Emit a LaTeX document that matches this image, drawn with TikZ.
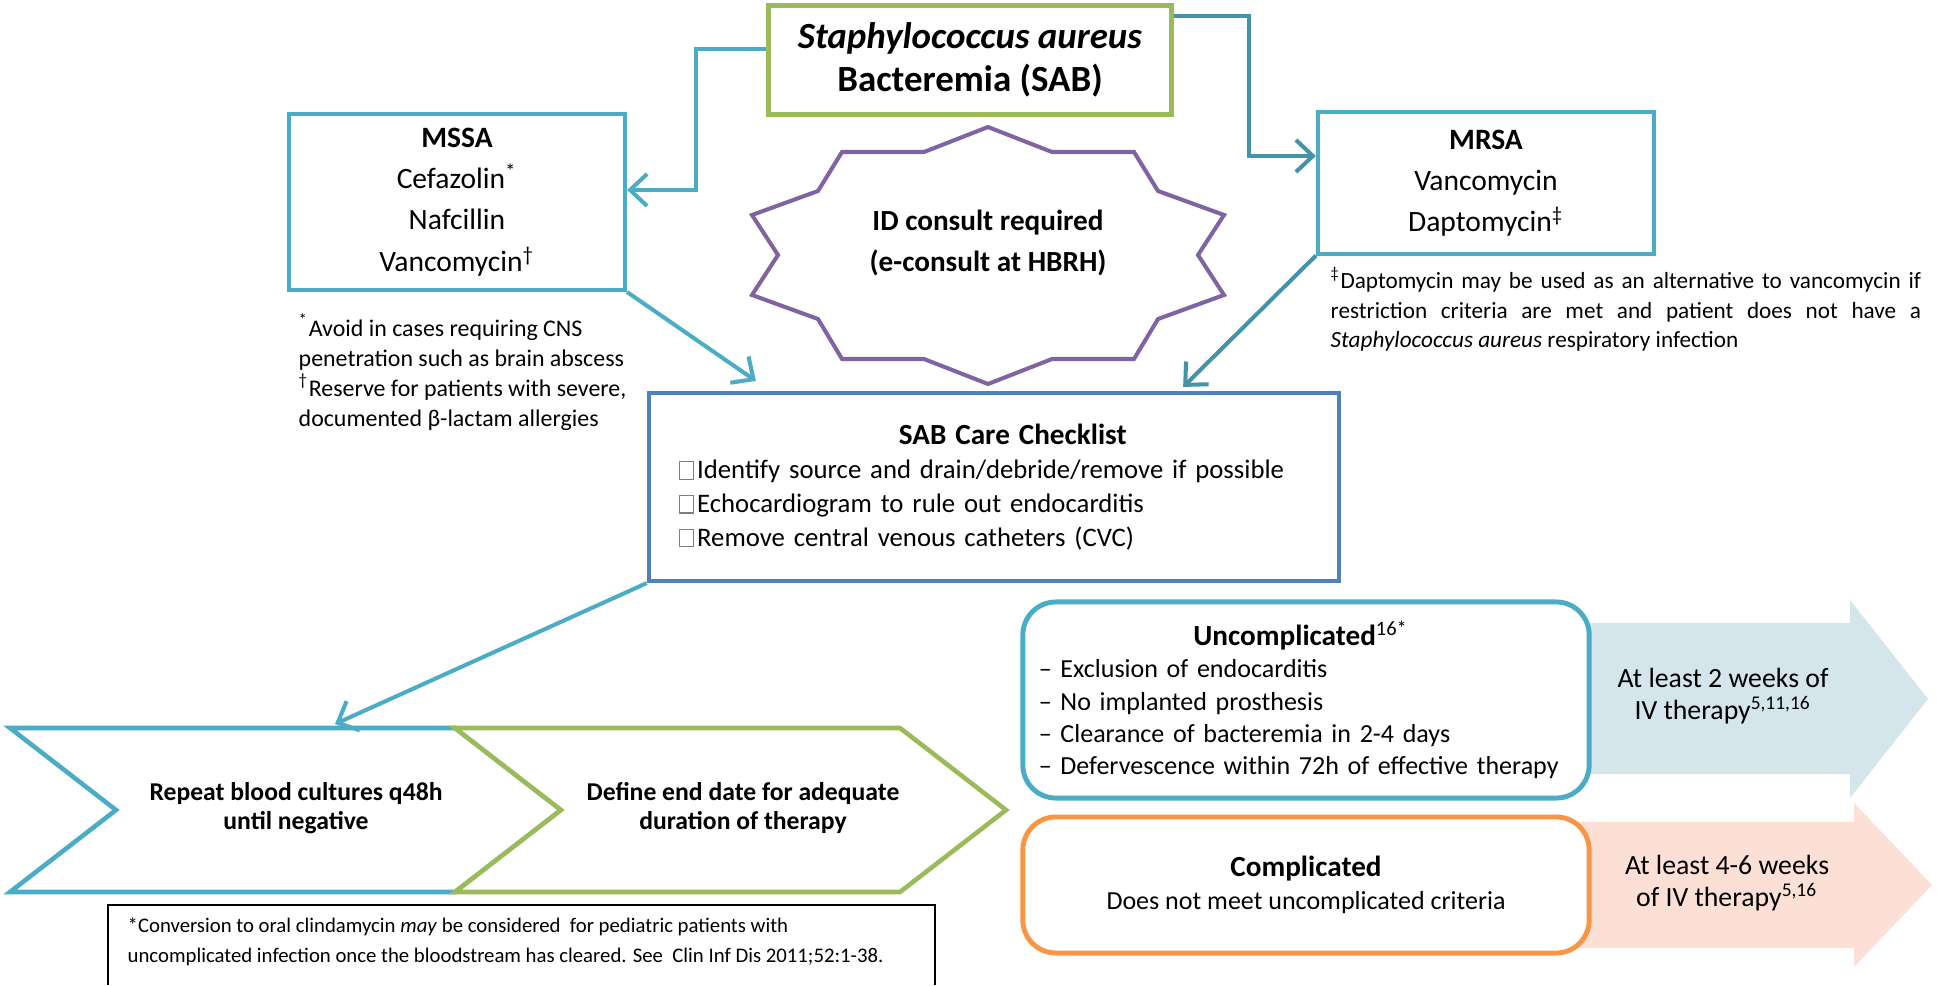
\documentclass[tikz,border=0pt]{standalone}
\usepackage{fontspec}
\setmainfont{Carlito}
\usetikzlibrary{arrows.meta}

\definecolor{sabgreen}{HTML}{9BBB59}
\definecolor{mssablue}{HTML}{4BACC6}
\definecolor{mrsateal}{HTML}{4692A6}
\definecolor{consultpurple}{HTML}{8064A2}
\definecolor{checkblue}{HTML}{4F81BD}
\definecolor{comporange}{HTML}{F79646}
\definecolor{shortfill}{HTML}{D4E5EC}
\definecolor{longfill}{HTML}{FCDFD5}
\definecolor{tofugray}{HTML}{7F7F7F}

\newcommand{\chkbox}{{\color{tofugray}\fboxsep=0pt\fboxrule=0.35pt\fbox{\rule{0pt}{4.6pt}\hspace{3.6pt}}}\hspace{0.12em}}

\tikzset{
  sabbox/.style={draw=sabgreen, line width=1.4pt, inner sep=0pt, align=center,
    minimum width=4.03cm, minimum height=1.09cm, font=\bfseries\fontsize{10.5}{12.3}\selectfont},
  drugbox/.style={draw=mssablue, line width=1.15pt, inner sep=0pt, align=center,
    minimum width=3.36cm, font=\fontsize{8.4}{11.7}\selectfont},
  listbox/.style={draw=checkblue, line width=1.15pt, inner xsep=0.3cm, inner ysep=0pt,
    text width=6.3cm, minimum height=1.88cm, align=left, font=\fontsize{7.6}{9.6}\selectfont},
  ovalbox/.style={line width=1.4pt, rounded corners=0.33cm, fill=white, inner ysep=0pt,
    minimum width=5.66cm, font=\fontsize{7.4}{9.2}\selectfont},
  consultline/.style={draw=consultpurple, line width=1.15pt, fill=white},
  chevronline/.style={line width=1.3pt, fill=white},
  steptext/.style={align=center, inner sep=0pt, font=\bfseries\fontsize{7.3}{8.3}\selectfont},
  durtext/.style={align=center, inner sep=0pt, font=\fontsize{7.9}{9.2}\selectfont},
  notetext/.style={align=left, inner sep=0pt, font=\fontsize{6.8}{8.5}\selectfont},
  conn/.style={line width=1.15pt, -{Straight Barb[length=1.7mm, width=3.2mm]}}
}

\begin{document}
\begin{tikzpicture}[x=0.01cm, y=-0.01cm]
  \newcommand{\tipdepth}{106}
  \newcommand{\stepwidth}{445}

  \useasboundingbox (0,0) rectangle (1937,985);

  % Draw duration arrows (they start behind the criteria boxes)
  \fill[shortfill] (1560,623) -- (1850,623) -- (1850,600) -- (1928,699) -- (1850,798) -- (1850,774) -- (1560,774) -- cycle;
  \fill[longfill] (1560,822) -- (1854,822) -- (1854,803) -- (1932,885) -- (1854,967) -- (1854,948) -- (1560,948) -- cycle;

  % Draw top box and the two drug boxes
  \node[sabbox] (sab) at (970,60) {\textit{Staphylococcus aureus}\\Bacteremia (SAB)};
  \node[drugbox, minimum height=1.76cm] (mssa) at (457,202) {\textbf{MSSA}\\Cefazolin\textsuperscript{*}\\Nafcillin\\Vancomycin\textsuperscript{†}};
  \node[drugbox, minimum height=1.41cm] (mrsa) at (1486,183) {\textbf{MRSA}\\Vancomycin\\Daptomycin\textsuperscript{‡}};

  % Footnotes of the drug boxes
  \node[notetext, anchor=west] (mssanote) at (298,372) {\textsuperscript{*}Avoid in cases requiring CNS\\penetration such as brain abscess\\\textsuperscript{†}Reserve for patients with severe,\\documented β-lactam allergies};
  \node[notetext, anchor=west, text width=5.9cm, align=justify, font=\fontsize{6.6}{8.3}\selectfont] (mrsanote) at (1330,309)
    {\textsuperscript{‡}Daptomycin may be used as an alternative to vancomycin if\linebreak restriction criteria are met and patient does not have a\linebreak \textit{Staphylococcus aureus} respiratory infection};

  % Draw consult star
  \begin{scope}[shift={(988,255)}]
    \draw[consultline] (0,-128) -- (64,-103) -- (146,-103) -- (170,-64) -- (236,-40) -- (210,0)
      -- (236,40) -- (170,64) -- (146,104) -- (64,104) -- (0,129) -- (-64,104) -- (-146,104)
      -- (-170,64) -- (-236,40) -- (-210,0) -- (-236,-40) -- (-170,-64) -- (-146,-103) -- (-64,-103) -- cycle;
  \end{scope}
  \node[font=\bfseries\fontsize{8.3}{11.4}\selectfont, align=center, inner sep=0pt] (consult) at (988,243) {ID consult required\\(e-consult at HBRH)};

  % Draw checklist
  \node[listbox] (checklist) at (994,487) {%
    {\fontsize{8.3}{10}\selectfont\hspace*{2.2cm}\textbf{SAB Care Checklist}\par}
    \chkbox Identify source and drain/debride/remove if possible\\
    \chkbox Echocardiogram to rule out endocarditis\\
    \chkbox Remove central venous catheters (CVC)};

  % Draw the two step chevrons
  \foreach \sx/\stepcol in {10/mssablue, 455/sabgreen} {
    \draw[chevronline, draw=\stepcol] (\sx,728) -- ++(\stepwidth,0) -- ++(\tipdepth,82) -- ++(-\tipdepth,82)
      -- ++(-\stepwidth,0) -- ++(\tipdepth,-82) -- cycle;
  }
  \node[steptext] (culture) at (296,808) {Repeat blood cultures q48h\\until negative};
  \node[steptext] (enddate) at (743,808) {Define end date for adequate\\duration of therapy};
  \coordinate (cultop) at (335,724);

  % Clindamycin note (its frame runs off the page)
  \node[notetext, anchor=west, font=\fontsize{5.9}{8.5}\selectfont] (clinda) at (127,942)
    {*Conversion to oral clindamycin \textit{may} be considered\ \ for pediatric patients with\\uncomplicated infection once the bloodstream has cleared. See\ \ Clin Inf Dis 2011;52:1-38.};
  \draw[line width=0.45pt] (108,985) |- (935,905) -- (935,985);

  % Draw criteria boxes
  \node[ovalbox, draw=mssablue, minimum height=1.96cm, text width=5.44cm, inner xsep=0.11cm, align=left] (uncomp) at (1306,700) {%
    \hyphenpenalty=10000
    {\centering\fontsize{8.3}{9.2}\selectfont\hspace*{-0.1cm}\textbf{Uncomplicated}\textsuperscript{16*}\par}
    \hspace*{0.05cm}– Exclusion of endocarditis\\
    \hspace*{0.05cm}– No implanted prosthesis\\
    \hspace*{0.05cm}– Clearance of bacteremia in 2-4 days\\
    \hspace*{0.05cm}– Defervescence within 72h of effective therapy};
  \node[ovalbox, draw=comporange, minimum height=1.36cm, align=center] (comp) at (1306,885)
    {{\fontsize{8.3}{9.2}\selectfont\textbf{Complicated}}\\Does not meet uncomplicated criteria};

  \node[durtext] (shortdur) at (1723,696) {At least 2 weeks of\\IV therapy\textsuperscript{5,11,16}};
  \node[durtext] (longdur) at (1727,883) {At least 4-6 weeks\\of IV therapy\textsuperscript{5,16}};

  % Draw connectors
  \draw[conn, mssablue] ([yshift=0.11cm]sab.west) -- ++(-70,0) |- ([yshift=0.12cm]mssa.east);
  \draw[conn, mrsateal] ([yshift=0.44cm]sab.east) -- ++(75,0) |- ([yshift=0.27cm]mrsa.west);
  \draw[conn, mssablue] (mssa.south east) -- ([shift={(1.09cm,0.1cm)}]checklist.north west);
  \draw[conn, mrsateal] (mrsa.south west) -- ([shift={(-1.58cm,0.04cm)}]checklist.north east);
  \draw[conn, mssablue] (checklist.south west) -- (cultop);
\end{tikzpicture}
\end{document}
